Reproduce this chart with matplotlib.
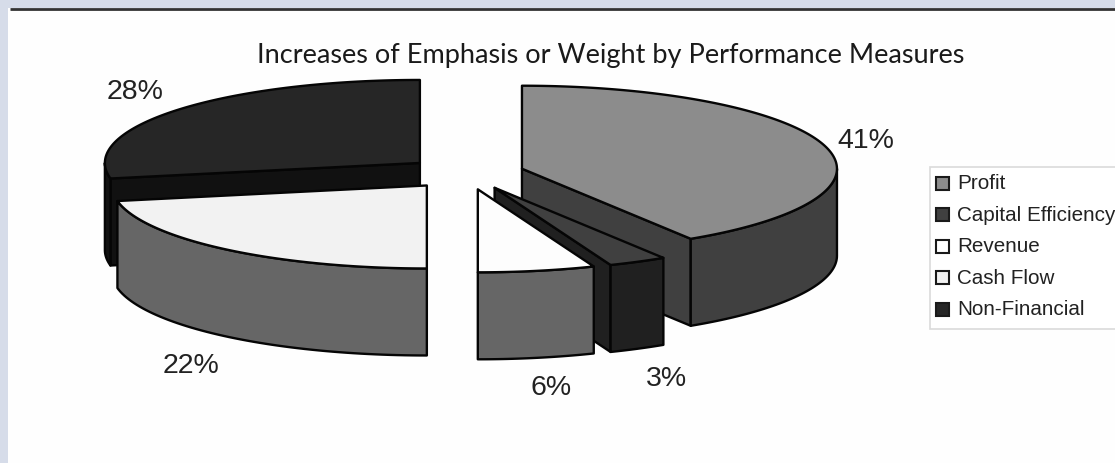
import numpy as np
import matplotlib
matplotlib.use('Agg')
import matplotlib.pyplot as plt
from matplotlib.patches import Polygon, Rectangle

TITLE = 'Increases of Emphasis or Weight by Performance Measures'
categories = ['Profit', 'Capital Efficiency', 'Revenue', 'Cash Flow', 'Non-Financial']
shares = [41, 3, 6, 22, 28]
explode = [0.185, 0.2, 0.2, 0.195, 0.19]

top_colors = ['#8c8c8c', '#404040', '#fdfdfd', '#f2f2f2', '#262626']
side_colors = ['#404040', '#202020', '#666666', '#666666', '#111111']
legend_colors = ['#8c8c8c', '#404040', '#ffffff', '#f2f2f2', '#262626']
label_pos = [(866, 141), (666, 379), (551, 388), (191, 366), (135, 92)]

# pie geometry, in pixels
CX, CY = 466, 174
RX, RY = 315, 83
DEPTH = 87
EDGE = '#050505'
LW = 1.7


def rim(c, t):
	t = np.radians(t)
	return np.column_stack([c[0] + RX*np.sin(t), c[1] - RY*np.cos(t)])


def face(ax, pts, color, z):
	ax.add_patch(Polygon(pts, closed=True, facecolor=color, edgecolor=EDGE, lw=LW, joinstyle='round', zorder=z))


def draw_slice(ax, t0, t1, share_explode, top, side, z):
	mid = np.radians((t0 + t1)/2)
	c = (CX + share_explode*RX*np.sin(mid), CY - share_explode*RY*np.cos(mid))
	down = np.array([0, DEPTH])

	# cut faces that look towards the viewer
	for t, visible in ((t0, 180 < t0 < 360), (t1, 0 < t1 < 180)):
		if visible:
			p = rim(c, np.array([t]))[0]
			face(ax, [c, p, p + down, np.array(c) + down], side, z)

	# outer wall, only the front half of the rim
	a, b = max(t0, 90), min(t1, 270)
	if a < b:
		arc = rim(c, np.linspace(a, b, 60))
		face(ax, np.vstack([arc, arc[::-1] + down]), side, z)

	arc = rim(c, np.linspace(t0, t1, 150))
	face(ax, np.vstack([[c], arc]), top, z)


fig = plt.figure(figsize=(11.15, 4.64), dpi=100, facecolor='#d6dce9')
ax = fig.add_axes([0, 0, 1, 1])
ax.set_xlim(0, 1115)
ax.set_ylim(464, 0)
ax.axis('off')

# white panel with the dark rule along its top
ax.add_patch(Rectangle((8, 9), 1107, 455, facecolor='#fefefe', edgecolor='none', zorder=0))
ax.plot([10, 1115], [9.5, 9.5], color='#333333', lw=2, solid_capstyle='butt', zorder=1)

ends = np.cumsum(shares)*3.6
starts = np.concatenate([[0], ends[:-1]])

# painted back to front
for z, i in enumerate([0, 4, 1, 3, 2]):
	draw_slice(ax, starts[i], ends[i], explode[i], top_colors[i], side_colors[i], 2 + z)

for i, share in enumerate(shares):
	ax.text(label_pos[i][0], label_pos[i][1], '%d%%' % share, fontsize=20.5, family='Liberation Sans',
		color='#222222', ha='center', va='center', zorder=10)

ax.text(611, 56, TITLE, fontsize=19.5, family='Lato', color='#1a1a1a', ha='center', va='center', zorder=10)

# legend runs off the right side of the panel
ax.add_patch(Rectangle((930, 168), 200, 162, facecolor='white', edgecolor='#dadada', lw=1.2, zorder=10))
for i, name in enumerate(categories):
	y = 184 + i*31.5
	ax.add_patch(Rectangle((935.5, y - 6.5), 13, 13, facecolor=legend_colors[i], edgecolor='#1a1a1a', lw=1.5, zorder=11))
	ax.text(957, y, name, fontsize=14.9, family='Liberation Sans', color='#222222', ha='left', va='center', zorder=11)

fig.savefig('out.png', dpi=100, facecolor=fig.get_facecolor())
